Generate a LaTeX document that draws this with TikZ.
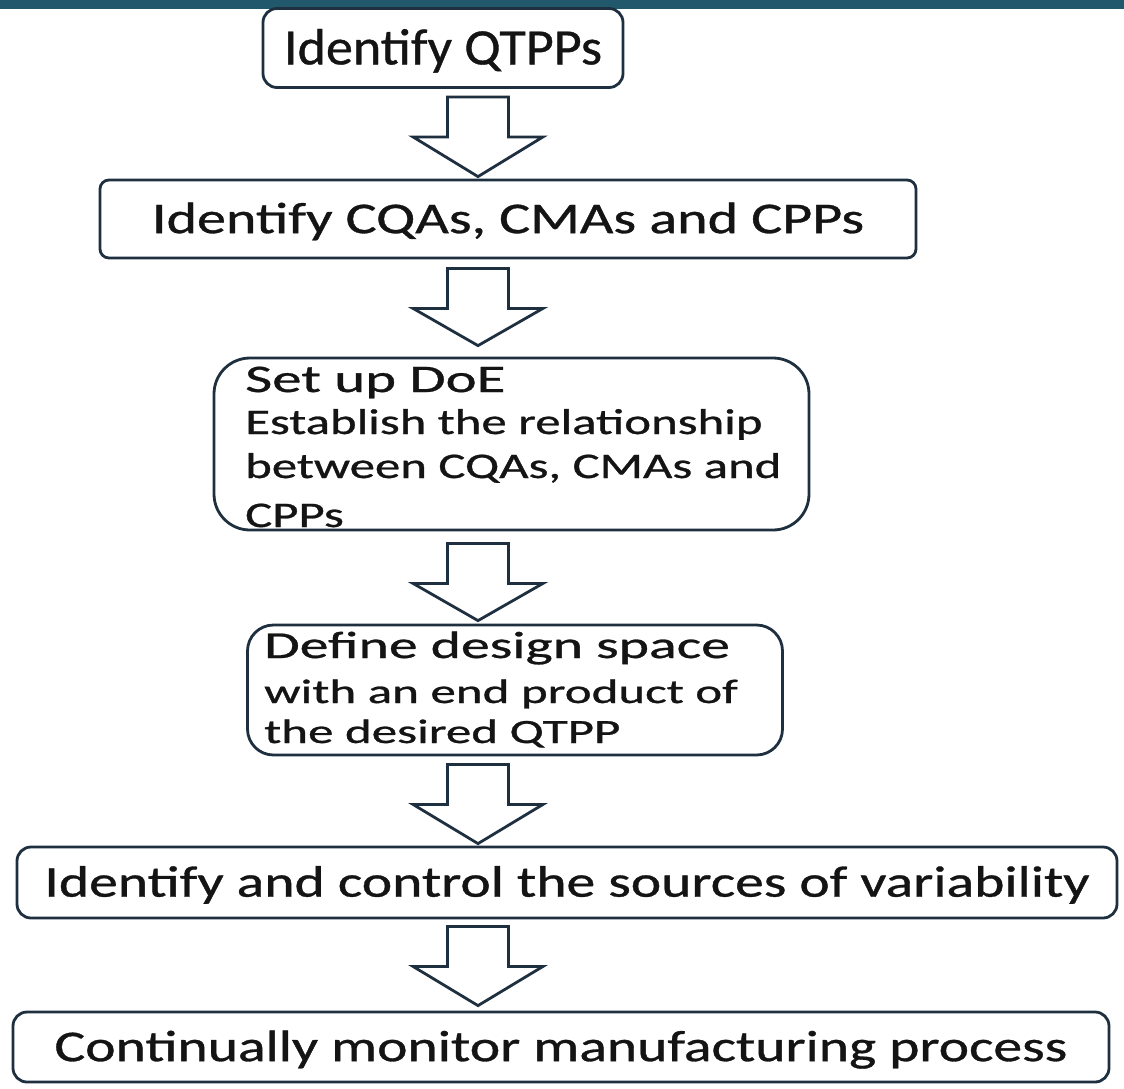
\documentclass[tikz,border=0pt]{standalone}
\usepackage{fontspec}
\setmainfont{Carlito}[UprightFeatures={FakeBold=0.7}]
\usepackage{graphicx}
\usetikzlibrary{calc}

\definecolor{barteal}{HTML}{21586B}
\definecolor{edge}{HTML}{1E2F40}
\definecolor{ink}{HTML}{141414}

% text set at a given size and widened horizontally
\newcommand\stx[3]{\scalebox{#2}[1]{\fontsize{#1pt}{#1pt}\selectfont #3}}

% hollow block arrow from the bottom of one box to the top of the next
% #1 source, #2 target, #3 offset below source, #4 gap above target
\newcommand\flowarrow[4]{%
  \path[blockarrow] let \p1=(#1.south), \p2=(#2.north), \p3=(axis) in
    (\x3-30.5pt,\y1-#3pt) -- (\x3+30.5pt,\y1-#3pt) -- (\x3+30.5pt,\y1-#3pt-40pt)
    -- (\x3+65pt,\y1-#3pt-40pt) -- (\x3,\y2+#4pt) -- (\x3-65pt,\y1-#3pt-40pt)
    -- (\x3-30.5pt,\y1-#3pt-40pt) -- cycle;}

\begin{document}
\begin{tikzpicture}[x=1pt,y=1pt,
  box/.style={draw=edge, line width=2.8pt, fill=white, text=ink, inner sep=0pt},
  oneline/.style={text height=#1pt, text depth=0pt},
  txtline/.style={text=ink, inner sep=0pt, anchor=base west},
  blockarrow/.style={draw=edge, line width=2.8pt, fill=white, line join=miter}]

\useasboundingbox[fill=white] (0,0) rectangle (1124,-1088);
\fill[barteal] (0,0) rectangle (1124,-9);

\coordinate (axis) at (478,0);

% process steps
\node[box, rounded corners=14pt, minimum width=360pt, minimum height=79pt, oneline=32.8]
  (qtpp) at (443,-48) {\stx{51}{1.06}{Identify QTPPs}};

\node[box, rounded corners=9pt, minimum width=816pt, minimum height=78pt, oneline=28.3]
  (cqa) at (508,-219) {\stx{44}{1.32}{Identify CQAs, CMAs and CPPs}};

\node[box, rounded corners=36pt, minimum width=595pt, minimum height=172pt]
  (doe) at (511.5,-444) {};
\node[txtline] (doe1) at (245,-392) {\stx{39}{1.51}{Set up DoE}};
\node[txtline] (doe2) at (245,-434) {\stx{36}{1.41}{Establish the relationship}};
\node[txtline] (doe3) at (245,-478) {\stx{36}{1.41}{between CQAs, CMAs and}};
\node[txtline] (doe4) at (245,-527) {\stx{36}{1.41}{CPPs}};

\node[box, rounded corners=26pt, minimum width=535pt, minimum height=130pt]
  (space) at (515,-690) {};
\node[txtline] (space1) at (264,-658) {\stx{38}{1.52}{Define design space}};
\node[txtline] (space2) at (264,-703) {\stx{34}{1.5}{with an end product of}};
\node[txtline] (space3) at (264,-743) {\stx{34}{1.5}{the desired QTPP}};

\node[box, rounded corners=14pt, minimum width=1100pt, minimum height=71pt, oneline=28.3]
  (vary) at (567,-882.5) {\stx{44}{1.31}{Identify and control the sources of variability}};

\node[box, rounded corners=14pt, minimum width=1096pt, minimum height=70pt, oneline=28.3]
  (monitor) at (561,-1047) {\stx{44}{1.31}{Continually monitor manufacturing process}};

% flow arrows
\flowarrow{qtpp}{cqa}{8}{2}
\flowarrow{cqa}{doe}{9}{11}
\flowarrow{doe}{space}{12}{3}
\flowarrow{space}{vary}{8}{2}
\flowarrow{vary}{monitor}{7}{5}

\end{tikzpicture}
\end{document}
